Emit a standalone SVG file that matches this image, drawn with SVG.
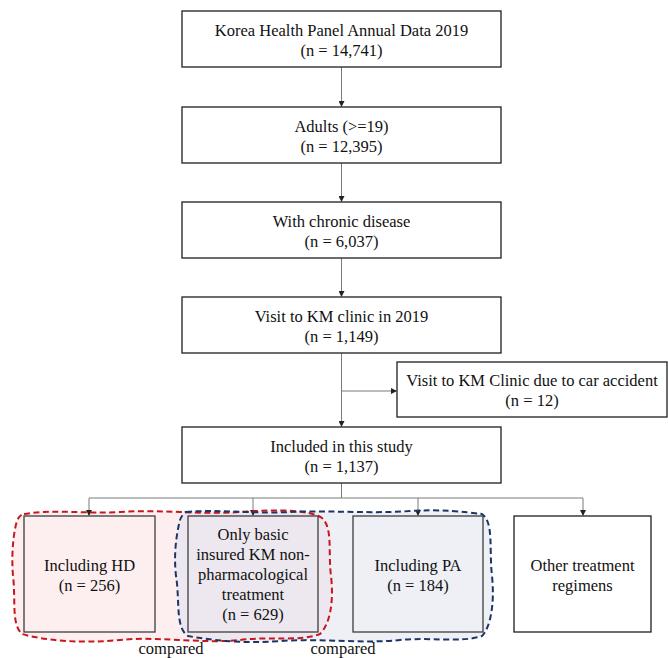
<svg xmlns="http://www.w3.org/2000/svg" width="668" height="658" viewBox="0 0 668 658">
<style>
.box{fill:#fff;stroke:#1e1e1e;stroke-width:1.3}
.gbox{stroke:#3c3c3c;stroke-width:1.3;fill:none}
text{font-family:"Liberation Serif","Times New Roman",serif;font-size:16.5px;fill:#111;text-anchor:middle}
.conn{stroke:#7a7a7a;stroke-width:1;fill:none}
.red{fill:none;stroke:#c8161d;stroke-width:2;stroke-dasharray:6,3.5}
.blue{fill:none;stroke:#1d3566;stroke-width:2;stroke-dasharray:6,3.5}
.redf{fill:#fbe1e3;fill-opacity:0.55;stroke:none}
.bluef{fill:#dde1ee;fill-opacity:0.5;stroke:none}
</style>
<defs>
<marker id="ah" markerWidth="6" markerHeight="6" refX="5" refY="3" orient="auto" markerUnits="userSpaceOnUse">
<path d="M0,0 L6,3 L0,6 Z" fill="#222"/>
</marker>
</defs>
<rect width="668" height="658" fill="#fff"/>
<g id="comparison-fills">
<path class="redf" d="M24,514 C55,509 85,514 120,512 C160,509 200,515 240,512 C280,509 310,510 322,518 C333,528 328,552 331,576 C334,602 330,624 320,634 C300,642 270,636 240,640 C200,644 160,636 120,640 C80,644 42,640 22,634 C11,624 16,600 13,576 C11,552 14,530 17,521 C19,516 21,515 24,514 Z"/>
<path class="bluef" d="M186,512 C220,509 250,514 290,512 C330,510 370,514 410,511 C440,509 465,512 482,514 C494,522 489,550 492,576 C495,605 490,628 482,636 C462,643 430,637 400,640 C360,644 320,638 280,641 C240,644 210,640 188,636 C175,628 180,600 176,576 C173,550 178,528 180,520 C182,515 184,513 186,512 Z"/>
</g>
<g id="connectors">
<line class="conn" x1="341.5" y1="67" x2="341.5" y2="106" marker-end="url(#ah)"/>
<line class="conn" x1="341.5" y1="163" x2="341.5" y2="201" marker-end="url(#ah)"/>
<line class="conn" x1="341.5" y1="258" x2="341.5" y2="296" marker-end="url(#ah)"/>
<line class="conn" x1="341.5" y1="353" x2="341.5" y2="426" marker-end="url(#ah)"/>
<line class="conn" x1="341.5" y1="391" x2="396" y2="391" marker-end="url(#ah)"/>
<line class="conn" x1="341.5" y1="483" x2="341.5" y2="498"/>
<line class="conn" x1="89" y1="498" x2="583" y2="498"/>
<line class="conn" x1="89" y1="498" x2="89" y2="515" marker-end="url(#ah)"/>
<line class="conn" x1="253" y1="498" x2="253" y2="515" marker-end="url(#ah)"/>
<line class="conn" x1="418" y1="498" x2="418" y2="515" marker-end="url(#ah)"/>
<line class="conn" x1="583" y1="498" x2="583" y2="515" marker-end="url(#ah)"/>
</g>
<g id="n1"><rect class="box" x="182" y="11" width="319" height="56"/><text x="341.5" y="36">Korea Health Panel Annual Data 2019</text><text x="341.5" y="56">(n = 14,741)</text></g>
<g id="n2"><rect class="box" x="182" y="107" width="319" height="56"/><text x="341.5" y="132">Adults (&gt;=19)</text><text x="341.5" y="152">(n = 12,395)</text></g>
<g id="n3"><rect class="box" x="182" y="202" width="319" height="56"/><text x="341.5" y="227">With chronic disease</text><text x="341.5" y="247">(n = 6,037)</text></g>
<g id="n4"><rect class="box" x="182" y="297" width="319" height="56"/><text x="341.5" y="322">Visit to KM clinic in 2019</text><text x="341.5" y="342">(n = 1,149)</text></g>
<g id="n5"><rect class="box" x="397" y="362" width="270" height="55"/><text x="532" y="386">Visit to KM Clinic due to car accident</text><text x="532" y="406">(n = 12)</text></g>
<g id="n6"><rect class="box" x="182" y="427" width="319" height="56"/><text x="341.5" y="452">Included in this study</text><text x="341.5" y="472">(n = 1,137)</text></g>
<g id="n7"><rect class="gbox" x="24" y="516" width="131" height="116"/><text x="89.5" y="571">Including HD</text><text x="89.5" y="591">(n = 256)</text></g>
<g id="n8"><rect class="gbox" x="188" y="516" width="130" height="116"/><text x="253" y="540">Only basic</text><text x="253" y="560">insured KM non-</text><text x="253" y="580">pharmacological</text><text x="253" y="600">treatment</text><text x="253" y="620">(n = 629)</text></g>
<g id="n9"><rect class="gbox" x="353" y="516" width="130" height="116"/><text x="418" y="571">Including PA</text><text x="418" y="591">(n = 184)</text></g>
<g id="n10"><rect class="box" x="514" y="516" width="137" height="116"/><text x="582.5" y="571">Other treatment</text><text x="582.5" y="591">regimens</text></g>
<g id="comparison-outlines">
<path class="red" d="M24,514 C55,509 85,514 120,512 C160,509 200,515 240,512 C280,509 310,510 322,518 C333,528 328,552 331,576 C334,602 330,624 320,634 C300,642 270,636 240,640 C200,644 160,636 120,640 C80,644 42,640 22,634 C11,624 16,600 13,576 C11,552 14,530 17,521 C19,516 21,515 24,514 Z"/>
<path class="blue" d="M186,512 C220,509 250,514 290,512 C330,510 370,514 410,511 C440,509 465,512 482,514 C494,522 489,550 492,576 C495,605 490,628 482,636 C462,643 430,637 400,640 C360,644 320,638 280,641 C240,644 210,640 188,636 C175,628 180,600 176,576 C173,550 178,528 180,520 C182,515 184,513 186,512 Z"/>
</g>
<g id="labels">
<text x="171" y="654">compared</text>
<text x="343" y="654">compared</text>
</g>
</svg>
